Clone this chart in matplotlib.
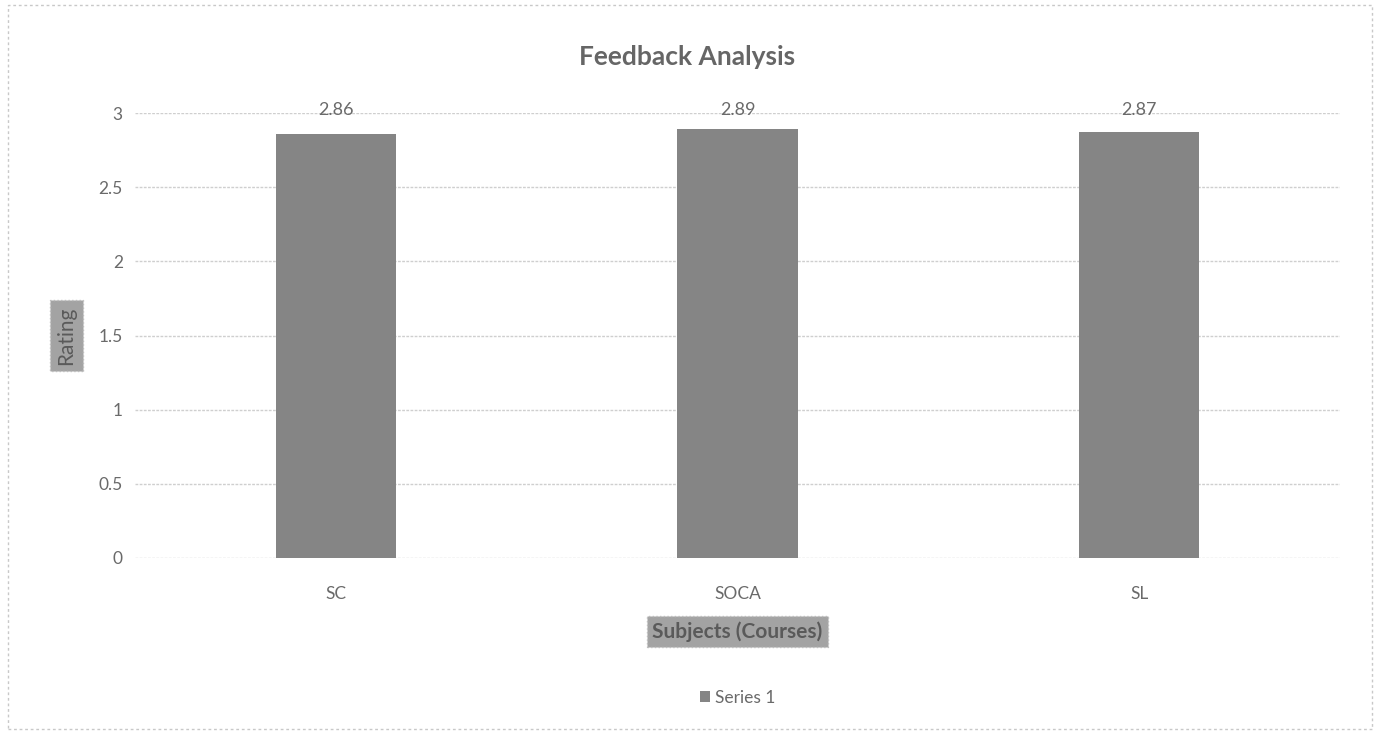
import matplotlib.pyplot as plt
from matplotlib.patches import Rectangle

# Data
subjects = ['SC', 'SOCA', 'SL']
ratings = [2.86, 2.89, 2.87]
series_name = 'Series 1'
yticks = [0, 0.5, 1, 1.5, 2, 2.5, 3]
ytick_labels = ['0', '0.5', '1', '1.5', '2', '2.5', '3']

plt.rcParams['font.family'] = ['Lato', 'DejaVu Sans']

fig = plt.figure(figsize=(13.8, 7.35), dpi=100)
ax = fig.add_axes([0.098, 0.241, 0.873, 0.605])

bar_color = '#858585'
text_color = '#6a6a6a'

bars = ax.bar(range(len(subjects)), ratings, width=0.3, color=bar_color,
              label=series_name, zorder=3)
for b, v in zip(bars, ratings):
    ax.text(b.get_x() + b.get_width() / 2, 2.97, f'{v:.2f}',
            ha='center', va='bottom', fontsize=13, color=text_color, zorder=4)

ax.set_xlim(-0.5, len(subjects) - 0.5)
ax.set_ylim(0, 3)
ax.set_yticks(yticks)
ax.set_yticklabels(ytick_labels)
ax.set_xticks(range(len(subjects)))
ax.set_xticklabels(subjects)
ax.tick_params(axis='both', length=0, labelsize=12.5, labelcolor=text_color)
ax.tick_params(axis='y', pad=9)
ax.tick_params(axis='x', pad=20)
ax.grid(axis='y', color='#cfcfcf', linewidth=1.0, linestyle=(0, (2, 1)), zorder=0)
for s in ax.spines.values():
    s.set_visible(False)

ax.set_ylabel('Rating', fontsize=15, color='#5a5a5a', labelpad=16,
              bbox=dict(boxstyle='square,pad=0.3', facecolor='#a3a3a3',
                        edgecolor='#bdbdbd', linestyle=':'))
ax.set_xlabel('Subjects (Courses)', fontsize=15, color='#5a5a5a', labelpad=14,
              fontweight='bold',
              bbox=dict(boxstyle='square,pad=0.25', facecolor='#a3a3a3',
                        edgecolor='#bdbdbd', linestyle=':'))

fig.text(0.498, 0.922, 'Feedback Analysis', ha='center', va='center',
         fontsize=19, fontweight='bold', color='#666666')

leg = ax.legend(loc='center', bbox_to_anchor=(0.5, -0.315), frameon=False,
                fontsize=12.5, handlelength=0.6, handleheight=0.6,
                handletextpad=0.3, labelcolor=text_color)

# outer chart frame
fig.patches.append(Rectangle((0.006, 0.008), 0.988, 0.985, transform=fig.transFigure,
                             fill=False, edgecolor='#c8c8c8', linewidth=1,
                             linestyle=(0, (2, 2))))

fig.savefig('out.png', dpi=100)
